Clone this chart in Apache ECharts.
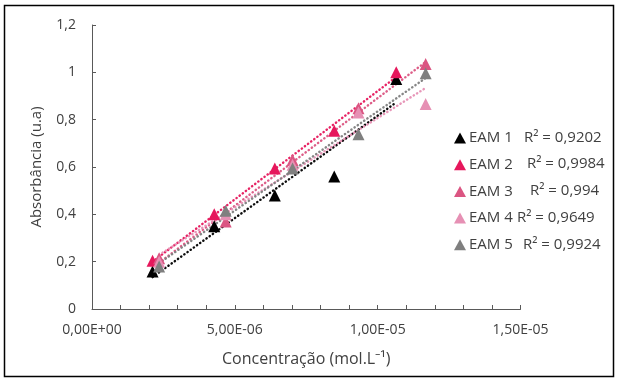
<!DOCTYPE html>
<html>
<head>
<meta charset="utf-8">
<script src="https://cdn.jsdelivr.net/npm/echarts@6/dist/echarts.min.js"></script>
<style>
  html, body { margin: 0; padding: 0; background: #fff; }
  #chart { width: 618px; height: 380px; }
</style>
</head>
<body>
<div id="chart"></div>
<script>
// Absorbance calibration data for five samples (concentration in mol/L)
const seriesNames = ['EAM 1', 'EAM 2', 'EAM 3', 'EAM 4', 'EAM 5'];
const r2Labels = ['R² = 0,9202', 'R² = 0,9984', 'R² = 0,994', 'R² = 0,9649', 'R² = 0,9924'];
const colors = ['#000000', '#e6175c', '#db5582', '#e690b4', '#7f7f7f'];

const concA = [2.12e-6, 4.28e-6, 6.40e-6, 8.48e-6, 10.65e-6];
const concB = [2.35e-6, 4.68e-6, 7.02e-6, 9.33e-6, 11.68e-6];

const absEAM1 = [0.158, 0.350, 0.480, 0.560, 0.972];
const absEAM2 = [0.204, 0.400, 0.594, 0.753, 1.000];
const absEAM3 = [0.214, 0.370, 0.630, 0.848, 1.035];
const absEAM4 = [0.200, 0.400, 0.610, 0.830, 0.866];
const absEAM5 = [0.180, 0.415, 0.594, 0.738, 0.996];

const xSets = [concA, concA, concB, concB, concB];
const ySets = [absEAM1, absEAM2, absEAM3, absEAM4, absEAM5];

// Least-squares linear trendline over the sample's concentration range
function trend(xs, ys) {
  const n = xs.length;
  const mx = xs.reduce((a, b) => a + b, 0) / n;
  const my = ys.reduce((a, b) => a + b, 0) / n;
  let sxy = 0, sxx = 0;
  for (let i = 0; i < n; i++) { sxy += (xs[i] - mx) * (ys[i] - my); sxx += (xs[i] - mx) ** 2; }
  const b = sxy / sxx, a = my - b * mx;
  const x0 = Math.min(...xs), x1 = Math.max(...xs);
  return [[x0, a + b * x0], [x1, a + b * x1]];
}

function fmtSci(v) {
  if (v === 0) return '0,00E+00';
  const s = v.toExponential(2); // e.g. 5.00e-6
  const [m, e] = s.split('e');
  const ex = parseInt(e, 10);
  const sign = ex < 0 ? '-' : '+';
  const mag = String(Math.abs(ex)).padStart(2, '0');
  return m.replace('.', ',') + 'E' + sign + mag;
}

const FONT = '"Open Sans", sans-serif';
const TXT = '#404040';
const AX = '#595959';

const series = [];
// dotted trendlines first, markers drawn over them
seriesNames.forEach((name, i) => {
  series.push({
    name: name + ' (linear)',
    type: 'line',
    data: trend(xSets[i], ySets[i]),
    symbol: 'none',
    silent: true,
    z: 1,
    lineStyle: { color: colors[i], width: 2.4, type: [0.3, 3.6], cap: 'round', opacity: 0.95 }
  });
});
seriesNames.forEach((name, i) => {
  series.push({
    name: name,
    type: 'scatter',
    symbol: 'triangle',
    symbolSize: 12,
    z: 3,
    itemStyle: { color: colors[i], opacity: 1 },
    data: xSets[i].map((x, k) => [x, ySets[i][k]])
  });
});

const rowCenters = [136, 162, 189, 216, 243];
const r2X = [524, 527, 530, 517, 523];

const chart = echarts.init(document.getElementById('chart'), null, { renderer: 'canvas' });
chart.setOption({
  animation: false,
  backgroundColor: '#ffffff',
  grid: { left: 92, right: 97.5, top: 25, bottom: 71, containLabel: false },
  xAxis: {
    type: 'value',
    min: 0,
    max: 1.5e-5,
    interval: 5e-6,
    name: 'Concentração (mol.L⁻¹)',
    nameLocation: 'middle',
    nameGap: 42,
    nameTextStyle: { fontFamily: FONT, fontSize: 16, color: TXT },
    axisLine: { lineStyle: { color: AX, width: 1 } },
    axisTick: { inside: true, length: 4, lineStyle: { color: AX } },
    minorTick: { show: true, splitNumber: 5, length: 4, lineStyle: { color: AX } },
    splitLine: { show: false },
    axisLabel: { fontFamily: FONT, fontSize: 14, color: TXT, margin: 14, formatter: fmtSci }
  },
  yAxis: {
    type: 'value',
    min: 0,
    max: 1.2,
    interval: 0.2,
    name: 'Absorbância (u.a)',
    nameLocation: 'middle',
    nameGap: 48,
    nameRotate: 90,
    nameTextStyle: { fontFamily: FONT, fontSize: 15, color: TXT },
    axisLine: { show: true, lineStyle: { color: AX, width: 1 } },
    axisTick: { show: true, inside: true, length: 4, lineStyle: { color: AX } },
    splitLine: { show: false },
    axisLabel: {
      fontFamily: FONT, fontSize: 14, color: TXT, margin: 16,
      formatter: v => String(Math.round(v * 10) / 10).replace('.', ',')
    }
  },
  legend: {
    data: seriesNames,
    orient: 'vertical',
    left: 449,
    top: rowCenters[0] - 8 - 3,
    itemWidth: 12,
    itemHeight: 11,
    itemGap: 26.7 - 16,
    icon: 'triangle',
    textStyle: { fontFamily: FONT, fontSize: 15, color: TXT, lineHeight: 16, padding: [0, 0, 0, -2] },
    selectedMode: false
  },
  graphic: [
    ...r2Labels.map((t, i) => ({
      type: 'text',
      x: r2X[i],
      y: rowCenters[i] + 2,
      style: { text: t, fontFamily: FONT, fontSize: 15, fill: TXT, verticalAlign: 'middle' }
    })),
    {
      type: 'rect',
      shape: { x: 4.5, y: 5.5, width: 609, height: 371 },
      style: { fill: 'none', stroke: '#000', lineWidth: 1.5 },
      silent: true
    }
  ],
  series: series
});
</script>
</body>
</html>
